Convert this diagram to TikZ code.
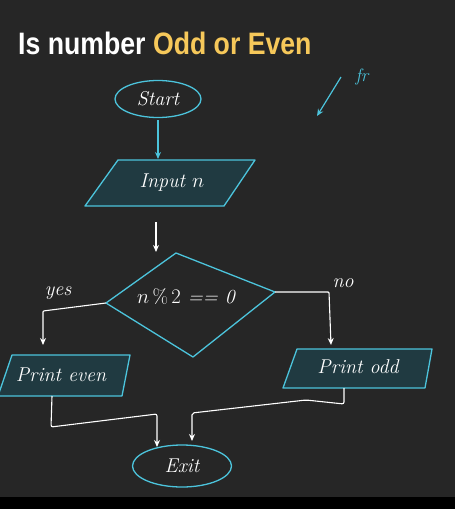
\documentclass[tikz,border=0pt]{standalone}
\usepackage{fontspec}
\setsansfont{Liberation Sans}
\usetikzlibrary{shapes.geometric,arrows.meta}
\definecolor{board}{HTML}{262626}
\definecolor{chalkcyan}{HTML}{4CC4DC}
\definecolor{boxfill}{HTML}{203A41}
\definecolor{titleyellow}{HTML}{F6C85A}
\tikzset{
  hand/.style={text=white,font=\fontsize{20}{23}\selectfont\itshape},
  cyanline/.style={draw=chalkcyan,line width=1.3pt},
  shapebox/.style={draw=chalkcyan,line width=1.3pt,fill=boxfill,line join=round},
  flow/.style={draw=white,line width=1.1pt,-{Stealth[length=7pt,width=6pt,open]}},
  cflow/.style={draw=chalkcyan,line width=1.2pt,-{Stealth[length=7pt,width=6pt,open]}},
}
\begin{document}
\begin{tikzpicture}[x=1pt,y=-1pt]
\useasboundingbox (0,0) rectangle (455,509);
\fill[board] (0,0) rectangle (455,497);
\fill[black] (0,497) rectangle (455,509);

% title
\node[anchor=west,inner sep=0pt] (title) at (18,43)
  {\scalebox{0.86}[1]{\sffamily\bfseries\fontsize{31}{34}\selectfont
   \textcolor{white}{Is number} \textcolor{titleyellow}{Odd or Even}}};

% start
\node[ellipse,cyanline,minimum width=86pt,minimum height=37pt,hand] (start) at (158,99) {Start};

% input
\coordinate (i1) at (118,160); \coordinate (i2) at (255,160);
\coordinate (i3) at (224,206); \coordinate (i4) at (85,206);
\path[shapebox] (i1) -- (i2) -- (i3) -- (i4) -- cycle;
\node[hand] (input) at (172,183) {Input $n$};
\coordinate (intop) at (158,159);
\coordinate (inbot) at (156,222);

% decision
\coordinate (dt) at (176,253); \coordinate (dr) at (275,292);
\coordinate (db) at (193,357); \coordinate (dl) at (106,303);
\draw[cyanline,line join=round] (dt) -- (dr) -- (db) -- (dl) -- cycle;
\node[hand] (cond) at (186,297) {$n\,\%\,2$ == 0};
\coordinate (dtop) at (156,252);

% print even
\coordinate (e1) at (12,355); \coordinate (e2) at (130,355);
\coordinate (e3) at (122,396); \coordinate (e4) at (-2,396);
\path[shapebox] (e1) -- (e2) -- (e3) -- (e4) -- cycle;
\node[hand] (even) at (61,375) {Print even};
\coordinate (etop) at (43,345);
\coordinate (ebot) at (52,396);

% print odd
\coordinate (o1) at (297,349); \coordinate (o2) at (432,349);
\coordinate (o3) at (425,388); \coordinate (o4) at (283,388);
\path[shapebox] (o1) -- (o2) -- (o3) -- (o4) -- cycle;
\node[hand] (odd) at (358,367) {Print odd};
\coordinate (otop) at (331,345);
\coordinate (obot) at (344,388);

% exit
\node[ellipse,cyanline,minimum width=99pt,minimum height=42pt,hand] (exit) at (182,466) {Exit};
\coordinate (x1) at (157,447);
\coordinate (x2) at (192,441);

% connectors
\draw[cflow] (start.south) ++(0,2) -- (intop);
\draw[flow] (inbot) -- (dtop);
\draw[flow,rounded corners=1pt] (dl) -- (43,311) -- (etop);
\draw[flow,rounded corners=1pt] (dr) -- (329,292) -- (otop);
\draw[flow,rounded corners=2pt] (ebot) -- (51,427) -- (157,414) -- (x1);
\draw[flow,rounded corners=2pt] (obot) -- (344,404) -- (306,400) -- (192,413) -- (x2);

% labels
\node[hand] (yes) at (58,293) {yes};
\node[hand] (no) at (343,283) {no};

% annotation
\coordinate (a1) at (341,77); \coordinate (a2) at (317,116);
\draw[cflow] (a1) -- (a2);
\node[text=chalkcyan,font=\fontsize{18}{21}\selectfont\itshape] (fr) at (362,77) {fr};
\end{tikzpicture}
\end{document}
